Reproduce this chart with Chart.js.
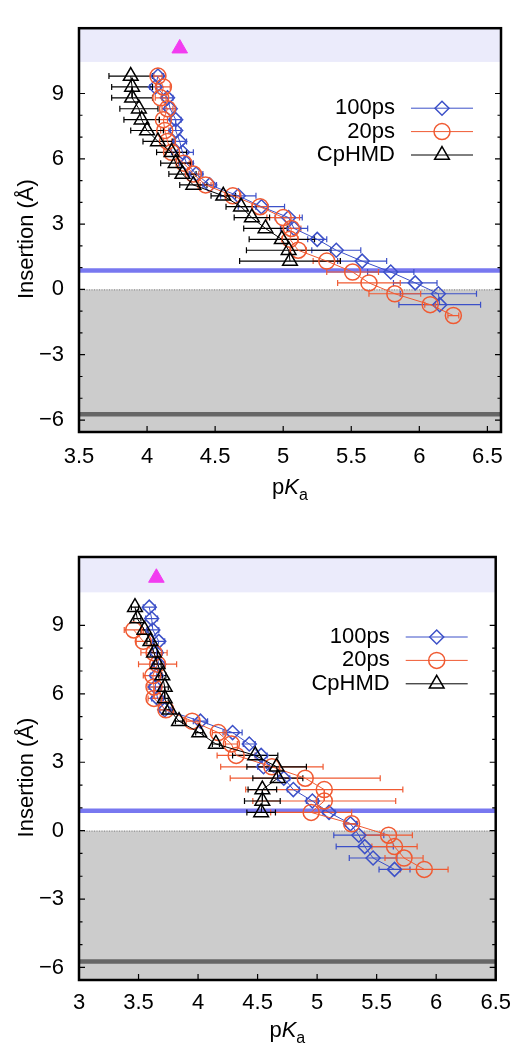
<!DOCTYPE html>
<html>
<head>
<meta charset="utf-8">
<script src="https://cdn.jsdelivr.net/npm/chart.js@4.4.0/dist/chart.umd.min.js"></script>
<style>
  body { margin: 0; background: #fff; }
  .panel { position: absolute; left: 0; width: 521px; height: 522px; }
</style>
</head>
<body>
<div class="panel" style="top:0"><canvas id="chartTop" width="521" height="522"></canvas></div>
<div class="panel" style="top:522px"><canvas id="chartBottom" width="521" height="522"></canvas></div>
<script>
const FONT = "'Liberation Sans', Arial, Helvetica, sans-serif";

// shared axis values
const yTicks = [-6, -3, 0, 3, 6, 9];
const yMinorTicks = [-5, -4, -2, -1, 1, 2, 4, 5, 7, 8];
const yRange = [-6.55, 12];
const bandTop = 10.45;      // lavender band (water side)
const blueLineY = 0.87;
const grayLineY = -5.74;

// ---- top panel ----
const xTicksTop = [3.5, 4, 4.5, 5, 5.5, 6, 6.5];
const xRangeTop = [3.5, 6.6];
const topRefPoint = [{ x: 4.24, y: 11.07 }];

const topDepth100 = [9.8, 9.3, 8.8, 8.3, 7.8, 7.3, 6.8, 6.3, 5.8, 5.3, 4.8, 4.3, 3.8, 3.3, 2.8, 2.3, 1.8, 1.3, 0.8, 0.3, -0.2, -0.7];
const topPka100 = [4.08, 4.06, 4.15, 4.17, 4.21, 4.21, 4.24, 4.26, 4.29, 4.36, 4.46, 4.67, 4.84, 5.04, 5.08, 5.25, 5.39, 5.58, 5.79, 5.97, 6.14, 6.15];
const topErr100 = [0.04, 0.04, 0.04, 0.04, 0.04, 0.04, 0.05, 0.08, 0.05, 0.05, 0.05, 0.13, 0.17, 0.1, 0.1, 0.07, 0.18, 0.18, 0.17, 0.16, 0.28, 0.3];

const topDepth20 = [9.8, 9.3, 8.8, 8.3, 7.8, 7.3, 6.8, 6.3, 5.8, 5.3, 4.8, 4.3, 3.8, 3.3, 2.8, 2.3, 1.8, 1.3, 0.8, 0.3, -0.2, -0.7, -1.2];
const topPka20 = [4.08, 4.12, 4.10, 4.15, 4.12, 4.13, 4.15, 4.18, 4.27, 4.34, 4.43, 4.63, 4.83, 5.00, 5.06, 5.05, 5.11, 5.32, 5.51, 5.63, 5.82, 6.08, 6.25];
const topErr20 = [0.03, 0.05, 0.04, 0.04, 0.03, 0.03, 0.03, 0.04, 0.04, 0.04, 0.04, 0.05, 0.06, 0.12, 0.07, 0.06, 0.06, 0.1, 0.19, 0.23, 0.19, 0.04, 0.04];

const topDepthCp = [9.8, 9.3, 8.8, 8.3, 7.8, 7.3, 6.8, 6.3, 5.8, 5.3, 4.8, 4.3, 3.8, 3.3, 2.8, 2.3, 1.8, 1.3];
const topPkaCp = [3.88, 3.89, 3.89, 3.94, 3.96, 4.00, 4.08, 4.18, 4.21, 4.26, 4.34, 4.56, 4.69, 4.77, 4.87, 4.99, 5.04, 5.05];
const topErrCp = [0.16, 0.15, 0.15, 0.14, 0.13, 0.12, 0.11, 0.11, 0.11, 0.10, 0.10, 0.09, 0.11, 0.13, 0.16, 0.24, 0.31, 0.37];

// ---- bottom panel ----
const xTicksBottom = [3, 3.5, 4, 4.5, 5, 5.5, 6, 6.5];
const xRangeBottom = [3, 6.5];
const bottomRefPoint = [{ x: 3.65, y: 11.09 }];

const botDepth100 = [9.8, 9.3, 8.8, 8.3, 7.8, 7.3, 6.8, 6.3, 5.8, 5.3, 4.8, 4.3, 3.8, 3.3, 2.8, 2.3, 1.8, 1.3, 0.8, 0.3, -0.2, -0.7, -1.2, -1.7];
const botPka100 = [3.59, 3.61, 3.62, 3.67, 3.65, 3.67, 3.65, 3.64, 3.66, 3.72, 4.02, 4.29, 4.43, 4.53, 4.55, 4.72, 4.80, 4.96, 5.10, 5.28, 5.35, 5.40, 5.47, 5.65];
const botErr100 = [0.05, 0.05, 0.05, 0.05, 0.05, 0.05, 0.05, 0.05, 0.05, 0.05, 0.06, 0.08, 0.05, 0.05, 0.05, 0.05, 0.05, 0.05, 0.05, 0.05, 0.21, 0.24, 0.2, 0.13];

const botDepth20 = [8.8, 8.3, 7.8, 7.3, 6.8, 6.3, 5.8, 5.3, 4.8, 4.3, 3.8, 3.3, 2.8, 2.3, 1.8, 1.3, 0.8, 0.3, -0.2, -0.7, -1.2, -1.7];
const botPka20 = [3.46, 3.54, 3.63, 3.66, 3.62, 3.63, 3.63, 3.73, 3.95, 4.17, 4.28, 4.32, 4.62, 4.90, 5.06, 5.06, 4.95, 5.29, 5.60, 5.65, 5.73, 5.90];
const botErr20 = [0.08, 0.06, 0.11, 0.16, 0.08, 0.05, 0.05, 0.05, 0.05, 0.05, 0.05, 0.16, 0.43, 0.63, 0.66, 0.6, 0.34, 0.05, 0.2, 0.19, 0.16, 0.2];

const botDepthCp = [9.8, 9.3, 8.8, 8.3, 7.8, 7.3, 6.8, 6.3, 5.8, 5.3, 4.8, 4.3, 3.8, 3.3, 2.8, 2.3, 1.8, 1.3, 0.8];
const botPkaCp = [3.47, 3.49, 3.55, 3.60, 3.63, 3.66, 3.70, 3.72, 3.72, 3.76, 3.84, 4.01, 4.15, 4.48, 4.66, 4.67, 4.54, 4.54, 4.53];
const botErrCp = [0.03, 0.03, 0.03, 0.03, 0.03, 0.03, 0.03, 0.03, 0.03, 0.03, 0.03, 0.03, 0.03, 0.19, 0.25, 0.21, 0.12, 0.15, 0.12];

const seriesStyle = {
    "100ps": { color: "#3c50c8", pointStyle: "rectRot", radius: 7 },
    "20ps": { color: "#f05a32", pointStyle: "circle", radius: 8 },
    "CpHMD": { color: "#000000", pointStyle: "triangle", radius: 8.5 },
};

function makeSeries(label, pka, depth, err, order) {
    const st = seriesStyle[label];
    return {
        label: label,
        data: pka.map((v, i) => ({ x: v, y: depth[i] })),
        errors: err,
        inLegend: true,
        showLine: true,
        borderColor: st.color,
        borderWidth: 1,
        backgroundColor: "rgba(0,0,0,0)",
        pointStyle: st.pointStyle,
        pointRadius: st.radius,
        pointBorderColor: st.color,
        pointBackgroundColor: "rgba(0,0,0,0)",
        pointBorderWidth: 1.5,
        tension: 0,
        order: order,
    };
}

function refMarker(points) {
    return {
        label: "ref",
        data: points,
        showLine: false,
        pointStyle: "triangle",
        pointRadius: 9,
        pointBackgroundColor: "#f23cf0",
        pointBorderColor: "#f23cf0",
        pointBorderWidth: 1,
        order: 0,
    };
}

function drawPKa(ctx, cx, baseline) {
    const parts = [
        { t: "p", font: "22px " + FONT, dy: 0 },
        { t: "K", font: "italic 22px " + FONT, dy: 0 },
        { t: "a", font: "16px " + FONT, dy: 6 },
    ];
    let total = 0;
    parts.forEach((p) => {
        ctx.font = p.font;
        p.w = ctx.measureText(p.t).width;
        total += p.w;
    });
    let x = cx - total / 2;
    ctx.fillStyle = "#000";
    ctx.textAlign = "left";
    ctx.textBaseline = "alphabetic";
    parts.forEach((p) => {
        ctx.font = p.font;
        ctx.fillText(p.t, x, baseline + p.dy);
        x += p.w;
    });
}

const panelDecor = {
    id: "panelDecor",
    beforeDatasetsDraw(chart) {
        const { ctx, chartArea: a, scales: { x, y } } = chart;
        ctx.save();
        // lavender band at the top
        const yb = y.getPixelForValue(bandTop);
        ctx.fillStyle = "#ebebfb";
        ctx.fillRect(a.left, a.top, a.width, yb - a.top);
        // gray region below zero
        const y0 = y.getPixelForValue(0);
        ctx.fillStyle = "#cccccc";
        ctx.fillRect(a.left, y0, a.width, a.bottom - y0);
        // dotted zero line
        ctx.strokeStyle = "#808080";
        ctx.lineWidth = 1;
        ctx.setLineDash([1, 1.5]);
        ctx.beginPath();
        ctx.moveTo(a.left, y0 + 0.5);
        ctx.lineTo(a.right, y0 + 0.5);
        ctx.stroke();
        ctx.setLineDash([]);
        // thick reference lines
        ctx.lineWidth = 4.5;
        ctx.strokeStyle = "#7878f0";
        const yBlue = y.getPixelForValue(blueLineY);
        ctx.beginPath();
        ctx.moveTo(a.left, yBlue);
        ctx.lineTo(a.right, yBlue);
        ctx.stroke();
        ctx.strokeStyle = "#666666";
        const yGray = y.getPixelForValue(grayLineY);
        ctx.beginPath();
        ctx.moveTo(a.left, yGray);
        ctx.lineTo(a.right, yGray);
        ctx.stroke();
        // horizontal error bars
        ctx.lineWidth = 1.2;
        chart.data.datasets.forEach((ds) => {
            if (!ds.errors) return;
            ctx.strokeStyle = ds.borderColor;
            ds.data.forEach((p, i) => {
                const e = ds.errors[i];
                const x1 = x.getPixelForValue(p.x - e);
                const x2 = x.getPixelForValue(p.x + e);
                const py = y.getPixelForValue(p.y);
                ctx.beginPath();
                ctx.moveTo(x1, py);
                ctx.lineTo(x2, py);
                ctx.moveTo(x1, py - 3);
                ctx.lineTo(x1, py + 3);
                ctx.moveTo(x2, py - 3);
                ctx.lineTo(x2, py + 3);
                ctx.stroke();
            });
        });
        ctx.restore();
    },
    afterDraw(chart, args, opts) {
        const { ctx, chartArea: a, scales: { x, y } } = chart;
        ctx.save();
        // inward tick marks
        ctx.strokeStyle = "#000";
        ctx.lineWidth = 1.2;
        ctx.beginPath();
        yTicks.forEach((v) => {
            const py = y.getPixelForValue(v);
            ctx.moveTo(a.left, py); ctx.lineTo(a.left + 6, py);
            ctx.moveTo(a.right, py); ctx.lineTo(a.right - 6, py);
        });
        yMinorTicks.forEach((v) => {
            const py = y.getPixelForValue(v);
            ctx.moveTo(a.left, py); ctx.lineTo(a.left + 3.5, py);
            ctx.moveTo(a.right, py); ctx.lineTo(a.right - 3.5, py);
        });
        opts.xTicks.forEach((v) => {
            const px = x.getPixelForValue(v);
            ctx.moveTo(px, a.bottom); ctx.lineTo(px, a.bottom - 6);
        });
        ctx.stroke();
        // frame
        ctx.lineWidth = 2.5;
        ctx.strokeRect(a.left, a.top, a.width, a.height);

        // gnuplot style key: text, then sample line with marker
        let row = 0;
        chart.data.datasets.forEach((ds) => {
            if (!ds.inLegend) return;
            const ly = a.top + 80 + row * 23.4;
            ctx.fillStyle = "#000";
            ctx.font = "22px " + FONT;
            ctx.textAlign = "right";
            ctx.textBaseline = "middle";
            ctx.fillText(ds.label, a.right - 106, ly);
            ctx.strokeStyle = ds.borderColor;
            ctx.lineWidth = 1;
            ctx.beginPath();
            ctx.moveTo(a.right - 90, ly);
            ctx.lineTo(a.right - 28, ly);
            ctx.stroke();
            ctx.fillStyle = "rgba(0,0,0,0)";
            ctx.lineWidth = ds.pointBorderWidth;
            Chart.helpers.drawPoint(ctx, {
                pointStyle: ds.pointStyle,
                radius: ds.pointRadius,
                rotation: 0,
                borderWidth: ds.pointBorderWidth,
            }, a.right - 59, ly);
            row++;
        });

        // axis titles
        drawPKa(ctx, (a.left + a.right) / 2, a.bottom + opts.xTitleOffset);
        ctx.save();
        ctx.translate(27, (a.top + a.bottom) / 2 + 9);
        ctx.rotate(-Math.PI / 2);
        ctx.fillStyle = "#000";
        ctx.font = "22px " + FONT;
        ctx.textAlign = "center";
        ctx.textBaseline = "middle";
        ctx.fillText("Insertion (\u00c5)", 0, 0);
        ctx.restore();
        ctx.restore();
    },
};

function buildChart(canvasId, datasets, xTicks, xRange, cfg) {
    const ctx = document.getElementById(canvasId).getContext("2d");
    return new Chart(ctx, {
        type: "scatter",
        data: { datasets: datasets },
        plugins: [panelDecor],
        options: {
            responsive: false,
            animation: false,
            layout: { padding: { left: 0, right: 20, top: cfg.padTop, bottom: 0 } },
            scales: {
                x: {
                    type: "linear",
                    min: xRange[0],
                    max: xRange[1],
                    afterFit: (s) => { s.height = cfg.xHeight; },
                    afterBuildTicks: (s) => { s.ticks = xTicks.map((v) => ({ value: v })); },
                    grid: { display: false, drawTicks: false },
                    border: { display: false },
                    ticks: {
                        padding: cfg.xLabelPad,
                        color: "#000",
                        maxRotation: 0,
                        autoSkip: false,
                        font: { family: FONT, size: 22 },
                        callback: (v) => String(v),
                    },
                },
                y: {
                    type: "linear",
                    min: yRange[0],
                    max: yRange[1],
                    afterFit: (s) => { s.width = 79; },
                    afterBuildTicks: (s) => { s.ticks = yTicks.map((v) => ({ value: v })); },
                    grid: { display: false, drawTicks: false },
                    border: { display: false },
                    ticks: {
                        padding: 15,
                        color: "#000",
                        font: { family: FONT, size: 22 },
                        callback: (v) => (v < 0 ? "\u2212" + Math.abs(v) : String(v)),
                    },
                },
            },
            plugins: {
                legend: { display: false },
                tooltip: { enabled: false },
                panelDecor: { xTicks: xTicks, xTitleOffset: cfg.xTitleOffset },
            },
        },
    });
}

buildChart("chartTop", [
    makeSeries("100ps", topPka100, topDepth100, topErr100, 3),
    makeSeries("20ps", topPka20, topDepth20, topErr20, 2),
    makeSeries("CpHMD", topPkaCp, topDepthCp, topErrCp, 1),
    refMarker(topRefPoint),
], xTicksTop, xRangeTop, { padTop: 10, xHeight: 90, xLabelPad: 12, xTitleOffset: 62 });

buildChart("chartBottom", [
    makeSeries("100ps", botPka100, botDepth100, botErr100, 3),
    makeSeries("20ps", botPka20, botDepth20, botErr20, 2),
    makeSeries("CpHMD", botPkaCp, botDepthCp, botErrCp, 1),
    refMarker(bottomRefPoint),
], xTicksBottom, xRangeBottom, { padTop: 35, xHeight: 64, xLabelPad: 10, xTitleOffset: 57 });
</script>
</body>
</html>
